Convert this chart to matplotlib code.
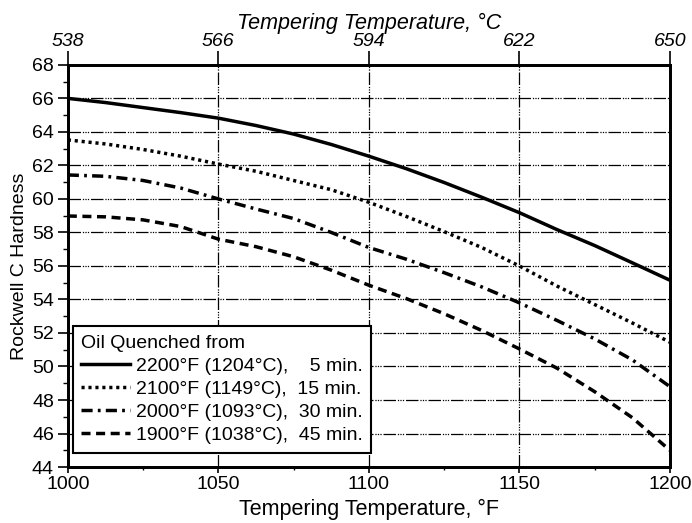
import matplotlib
matplotlib.use("Agg")
import matplotlib.pyplot as plt
from matplotlib.ticker import MultipleLocator

plt.rcParams['font.family'] = ['Liberation Sans', 'DejaVu Sans']

# tempering temperature, deg F
temp_f = [1000, 1012.5, 1025, 1037.5, 1050, 1062.5, 1075, 1087.5, 1100,
          1112.5, 1125, 1137.5, 1150, 1162.5, 1175, 1187.5, 1200]
# Rockwell C hardness per oil quench temperature
hrc_2200 = [66.0, 65.75, 65.45, 65.15, 64.82, 64.38, 63.87, 63.25, 62.55,
            61.8, 60.98, 60.1, 59.18, 58.17, 57.22, 56.19, 55.15]
hrc_2100 = [63.52, 63.28, 62.95, 62.55, 62.08, 61.65, 61.1, 60.55, 59.8,
            58.95, 58.05, 57.1, 56.0, 54.8, 53.7, 52.6, 51.45]
hrc_2000 = [61.43, 61.35, 61.1, 60.65, 60.0, 59.4, 58.83, 58.0, 57.1,
            56.4, 55.6, 54.75, 53.8, 52.75, 51.65, 50.4, 48.8]
hrc_1900 = [58.98, 58.93, 58.75, 58.35, 57.6, 57.15, 56.55, 55.75, 54.85,
            54.05, 53.15, 52.15, 51.05, 49.9, 48.5, 46.95, 45.0]

labels = ["2200°F (1204°C),    5 min.",
          "2100°F (1149°C),  15 min.",
          "2000°F (1093°C),  30 min.",
          "1900°F (1038°C),  45 min."]
top_ticks_f = [1000, 1050, 1100, 1150, 1200]
top_labels_c = ["538", "566", "594", "622", "650"]

fig = plt.figure(figsize=(6.92, 5.23), dpi=100)
ax = fig.add_axes([0.098, 0.107, 0.870, 0.769])

grid_dash = (0, (10, 1.5, 1, 1, 1, 1, 1, 1.5))
for yv in range(46, 68, 2):
    ax.axhline(yv, color='black', lw=0.9, linestyle=grid_dash, zorder=1)
for xv in [1050, 1100, 1150]:
    ax.axvline(xv, color='black', lw=0.9, linestyle=grid_dash, zorder=1)

lw = 2.5
ax.plot(temp_f, hrc_2200, color='black', lw=lw, linestyle='-', label=labels[0], zorder=3)
ax.plot(temp_f, hrc_2100, color='black', lw=lw, linestyle=(0, (0.9, 1.1)), label=labels[1], zorder=3)
ax.plot(temp_f, hrc_2000, color='black', lw=lw, linestyle=(0, (3.2, 1.5, 0.8, 1.5)), label=labels[2], zorder=3)
ax.plot(temp_f, hrc_1900, color='black', lw=lw, linestyle=(0, (2.6, 1.6)), label=labels[3], zorder=3)

ax.set_xlim(1000, 1200)
ax.set_ylim(44, 68)
ax.xaxis.set_major_locator(MultipleLocator(50))
ax.xaxis.set_minor_locator(MultipleLocator(25))
ax.yaxis.set_major_locator(MultipleLocator(2))
ax.yaxis.set_minor_locator(MultipleLocator(1))
ax.tick_params(which='major', direction='out', width=1.2, labelsize=14, colors='black')
ax.tick_params(which='minor', direction='out', width=1.0)
ax.tick_params(axis='x', which='major', length=4.5, pad=2)
ax.tick_params(axis='x', which='minor', length=2.5)
ax.tick_params(axis='y', which='major', length=7, pad=3)
ax.tick_params(axis='y', which='minor', length=3.5)
for sp in ax.spines.values():
    sp.set_linewidth(2)

ax.set_xlabel("Tempering Temperature, °F", fontsize=15.5, labelpad=4)
ax.set_ylabel("Rockwell C Hardness", fontsize=14, labelpad=3)

top = ax.twiny()
top.set_xlim(ax.get_xlim())
top.set_xticks(top_ticks_f)
top.set_xticklabels(top_labels_c, fontsize=14, style='italic')
top.tick_params(axis='x', direction='out', length=10, width=1.2, pad=0.5)
top.set_xlabel("Tempering Temperature, °C", fontsize=15.5, style='italic', labelpad=3)
for sp in top.spines.values():
    sp.set_linewidth(2)

leg = ax.legend(title="Oil Quenched from", loc='lower left',
                bbox_to_anchor=(0.008, 0.035), fontsize=14, title_fontsize=14,
                frameon=True, fancybox=False, framealpha=1, edgecolor='black',
                handlelength=2.5, handletextpad=0.3, borderpad=0.45,
                labelspacing=0.28, borderaxespad=0)
leg._legend_box.align = "left"
leg.get_frame().set_linewidth(1.5)
leg.set_zorder(5)

fig.savefig("out.png", dpi=100)
